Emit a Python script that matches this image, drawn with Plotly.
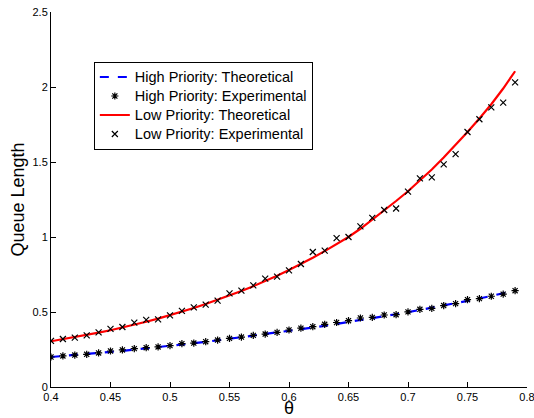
import plotly.graph_objects as go

theta = [0.40, 0.41, 0.42, 0.43, 0.44, 0.45, 0.46, 0.47, 0.48, 0.49,
         0.50, 0.51, 0.52, 0.53, 0.54, 0.55, 0.56, 0.57, 0.58, 0.59,
         0.60, 0.61, 0.62, 0.63, 0.64, 0.65, 0.66, 0.67, 0.68, 0.69,
         0.70, 0.71, 0.72, 0.73, 0.74, 0.75, 0.76, 0.77, 0.78, 0.79]

high_theory = [0.200, 0.206, 0.212, 0.219, 0.226, 0.233, 0.241, 0.249, 0.257, 0.265,
               0.274, 0.283, 0.292, 0.301, 0.311, 0.321, 0.331, 0.341, 0.352, 0.363,
               0.374, 0.385, 0.396, 0.408, 0.420, 0.432, 0.445, 0.458, 0.471, 0.485,
               0.499, 0.513, 0.528, 0.543, 0.558, 0.574, 0.590, 0.607, 0.624, 0.642]

high_exp = [0.200, 0.207, 0.213, 0.218, 0.227, 0.240, 0.247, 0.256, 0.262, 0.267,
            0.276, 0.289, 0.293, 0.302, 0.313, 0.324, 0.333, 0.344, 0.353, 0.364,
            0.380, 0.392, 0.402, 0.418, 0.430, 0.442, 0.460, 0.464, 0.480, 0.482,
            0.501, 0.518, 0.524, 0.543, 0.556, 0.582, 0.589, 0.605, 0.619, 0.642]

low_theory = [0.305, 0.318, 0.332, 0.346, 0.362, 0.378, 0.396, 0.415, 0.435, 0.456,
              0.478, 0.502, 0.527, 0.553, 0.581, 0.610, 0.640, 0.672, 0.706, 0.742,
              0.780, 0.820, 0.862, 0.906, 0.952, 1.000, 1.055, 1.115, 1.178, 1.240,
              1.305, 1.375, 1.450, 1.530, 1.613, 1.700, 1.790, 1.885, 1.990, 2.105]

low_exp = [0.307, 0.320, 0.329, 0.344, 0.364, 0.387, 0.400, 0.429, 0.447, 0.451,
           0.478, 0.507, 0.531, 0.549, 0.576, 0.624, 0.642, 0.678, 0.722, 0.736,
           0.778, 0.820, 0.900, 0.909, 0.993, 1.000, 1.071, 1.127, 1.180, 1.190,
           1.302, 1.391, 1.398, 1.484, 1.553, 1.700, 1.785, 1.864, 1.896, 2.031]

series_names = ["High Priority: Theoretical", "High Priority: Experimental",
                "Low Priority: Theoretical", "Low Priority: Experimental"]

x_ticks = [0.4, 0.45, 0.5, 0.55, 0.6, 0.65, 0.7, 0.75, 0.8]
x_tick_text = ["0.4", "0.45", "0.5", "0.55", "0.6", "0.65", "0.7", "0.75", "0.8"]
y_ticks = [0, 0.5, 1, 1.5, 2, 2.5]
y_tick_text = ["0", "0.5", "1", "1.5", "2", "2.5"]

FONT = "Liberation Sans, Arial, Helvetica, sans-serif"


def leg(name):
    return '<span style="font-size:14.5px">' + name + '</span>'


fig = go.Figure()
fig.add_trace(go.Scatter(x=theta, y=high_theory, mode="lines",
                         name=leg(series_names[0]),
                         line=dict(color="#0000ff", width=2.2, dash="dash")))
fig.add_trace(go.Scatter(x=theta, y=high_exp, mode="markers",
                         name=leg(series_names[1]),
                         marker=dict(symbol="asterisk-open", size=6, color="black",
                                     line=dict(color="black", width=1.2))))
fig.add_trace(go.Scatter(x=theta, y=low_theory, mode="lines",
                         name=leg(series_names[2]),
                         line=dict(color="#ff0000", width=2.2)))
fig.add_trace(go.Scatter(x=theta, y=low_exp, mode="markers",
                         name=leg(series_names[3]),
                         marker=dict(symbol="x-thin-open", size=6, color="black",
                                     line=dict(color="black", width=1.2))))

fig.update_layout(
    width=534, height=418,
    margin=dict(l=51, r=7, t=12, b=31),
    paper_bgcolor="white", plot_bgcolor="white",
    font=dict(family=FONT, size=11, color="black"),
    showlegend=True,
    legend=dict(x=0.09, y=0.868, xanchor="left", yanchor="top",
                bgcolor="white", bordercolor="black", borderwidth=1,
                font=dict(family=FONT, size=12, color="black"),
                tracegroupgap=0, itemwidth=30),
)
fig.update_xaxes(range=[0.4, 0.8], tickvals=x_ticks, ticktext=x_tick_text,
                 showgrid=False, zeroline=False, showline=True, linecolor="black",
                 linewidth=1, ticks="inside", ticklen=5, tickcolor="black",
                 mirror=False, automargin=False, ticklabeloverflow="allow",
                 title=dict(text="θ", font=dict(family=FONT, size=18), standoff=8))
fig.update_yaxes(range=[0, 2.5], tickvals=y_ticks, ticktext=y_tick_text,
                 showgrid=False, zeroline=False, showline=True, linecolor="black",
                 linewidth=1, ticks="inside", ticklen=5, tickcolor="black",
                 mirror=False, automargin=False, ticklabeloverflow="allow",
                 title=dict(text="Queue Length", font=dict(family=FONT, size=18), standoff=3))

html = fig.to_html(full_html=True, config={"displayModeBar": False})
html = html.replace("<body>", '<body style="margin:0;padding:0;overflow:hidden">', 1)
html = html.replace("<head>", '<head><style>html,body{margin:0;padding:0;}</style>', 1)
with open("out.html", "w", encoding="utf-8") as f:
    f.write(html)
